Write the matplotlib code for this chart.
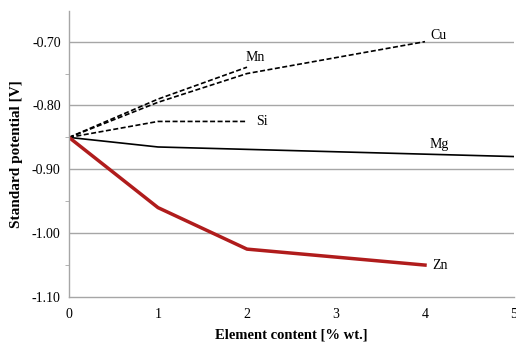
import matplotlib
matplotlib.use("Agg")
import matplotlib.pyplot as plt
from matplotlib.ticker import MultipleLocator

# Data
cu_x = [0, 1, 2, 4]
cu_y = [-0.85, -0.795, -0.75, -0.70]
mn_x = [0, 1, 2]
mn_y = [-0.85, -0.79, -0.74]
si_x = [0, 1, 2]
si_y = [-0.85, -0.825, -0.825]
mg_x = [0, 1, 5]
mg_y = [-0.85, -0.865, -0.88]
zn_x = [0, 1, 2, 4]
zn_y = [-0.85, -0.96, -1.025, -1.05]

x_ticks = [0, 1, 2, 3, 4, 5]
y_ticks = [-1.10, -1.00, -0.90, -0.80, -0.70]

plt.rcParams['font.family'] = ['Liberation Serif', 'DejaVu Serif']

fig = plt.figure(figsize=(5.16, 3.45), dpi=100)
ax = fig.add_axes([69/516, 1 - 297/345, 445/516, (297 - 11)/345])

grid_c = '#a6a6a6'
for y in y_ticks[1:]:
    ax.axhline(y, color=grid_c, lw=1.0, zorder=0)

ax.plot(cu_x, cu_y, color='black', lw=1.2, ls=(0, (3, 1.5)))
ax.plot(mn_x, mn_y, color='black', lw=1.2, ls=(0, (3, 1.5)))
ax.plot(si_x, si_y, color='black', lw=1.2, ls=(0, (3, 1.5)))
ax.plot(mg_x, mg_y, color='black', lw=1.2)
ax.plot(zn_x, zn_y, color='#b01c1c', lw=2.5)

fs = 10
ax.text(4.06, -0.70, 'Cu', fontsize=fs, va='bottom', ha='left')
ax.text(1.98, -0.735, 'Mn', fontsize=fs, va='bottom', ha='left')
ax.text(2.1, -0.825, 'Si', fontsize=fs, va='center', ha='left')
ax.text(4.05, -0.872, 'Mg', fontsize=fs, va='bottom', ha='left')
ax.text(4.08, -1.05, 'Zn', fontsize=fs, va='center', ha='left')

ax.set_xlim(0, 5)
ax.set_ylim(-1.10, -0.652)
ax.set_xticks(x_ticks)
ax.set_yticks(y_ticks)
ax.set_yticklabels([f'{v:.2f}' for v in y_ticks])
ax.yaxis.set_minor_locator(MultipleLocator(0.05))
ax.tick_params(axis='y', which='major', length=0, labelsize=fs, pad=6)
ax.tick_params(axis='y', which='minor', length=3, color=grid_c, direction='out')
ax.tick_params(axis='x', which='major', length=0, labelsize=fs, pad=8)

for s in ['top', 'right']:
    ax.spines[s].set_visible(False)
for s in ['left', 'bottom']:
    ax.spines[s].set_color(grid_c)
    ax.spines[s].set_linewidth(1.0)

ax.set_ylabel('Standard potential [V]', fontsize=11, fontweight='bold', labelpad=6)
ax.set_xlabel('Element content [% wt.]', fontsize=10.5, fontweight='bold', labelpad=5)

fig.savefig('out.png', dpi=100)
